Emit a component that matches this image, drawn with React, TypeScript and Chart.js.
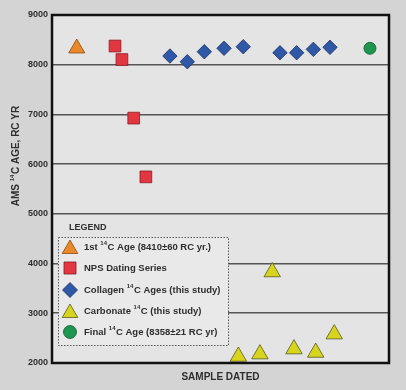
import React, { useEffect, useRef } from "react";
import { Chart, registerables } from "chart.js";

Chart.register(...registerables);

const yTicks = [2000, 3000, 4000, 5000, 6000, 7000, 8000, 9000];

const firstX = [1.47];
const firstY = [8330];
const npsX = [3.74, 4.15, 4.85, 5.57];
const npsY = [8376, 8104, 6926, 5744];
const collX = [7.0, 8.03, 9.04, 10.21, 11.35, 13.53, 14.52, 15.51, 16.5];
const collY = [8175, 8060, 8261, 8330, 8362, 8241, 8241, 8309, 8350];
const carbX = [11.06, 12.34, 13.07, 14.36, 15.65, 16.75];
const carbY = [2131, 2179, 3830, 2280, 2211, 2581];
const finalX = [18.87];
const finalY = [8330];

const legendItems = [
  { shape: "triangle", fill: "#e8892a", stroke: "#8a4a10", parts: ["1st ", "^14", "C Age (8410±60 RC yr.)"] },
  { shape: "rect", fill: "#e23640", stroke: "#8a1a20", parts: ["NPS Dating Series"] },
  { shape: "diamond", fill: "#2f59a6", stroke: "#1a2f60", parts: ["Collagen ", "^14", "C Ages (this study)"] },
  { shape: "triangle", fill: "#d6d41c", stroke: "#5a5a20", parts: ["Carbonate ", "^14", "C (this study)"] },
  { shape: "circle", fill: "#1e9650", stroke: "#0e5a2a", parts: ["Final ", "^14", "C Age (8358±21 RC yr)"] },
];

const FONT = "'Liberation Sans', Arial, sans-serif";
const TEXT = "#2e2e2e";

function pts(xs: number[], ys: number[]) {
  return xs.map((x, i) => ({ x, y: ys[i] }));
}

function drawShape(ctx: CanvasRenderingContext2D, shape: string, x: number, y: number, r: number) {
  ctx.beginPath();
  if (shape === "triangle") {
    ctx.moveTo(x, y - r);
    ctx.lineTo(x + r * Math.sin((2 * Math.PI) / 3), y - r * Math.cos((2 * Math.PI) / 3));
    ctx.lineTo(x + r * Math.sin((4 * Math.PI) / 3), y - r * Math.cos((4 * Math.PI) / 3));
    ctx.closePath();
  } else if (shape === "rect") {
    const h = r * 0.707;
    ctx.rect(x - h, y - h, 2 * h, 2 * h);
  } else if (shape === "diamond") {
    ctx.moveTo(x, y - r);
    ctx.lineTo(x + r, y);
    ctx.lineTo(x, y + r);
    ctx.lineTo(x - r, y);
    ctx.closePath();
  } else {
    ctx.arc(x, y, r, 0, Math.PI * 2);
  }
  ctx.fill();
  ctx.stroke();
}

function measureRich(ctx: CanvasRenderingContext2D, parts: string[], size: number) {
  let w = 0;
  for (const p of parts) {
    if (p.startsWith("^")) {
      ctx.font = `bold ${Math.round(size * 0.6)}px ${FONT}`;
      w += ctx.measureText(p.slice(1)).width + 0.5;
    } else {
      ctx.font = `bold ${size}px ${FONT}`;
      w += ctx.measureText(p).width;
    }
  }
  return w;
}

function drawRich(ctx: CanvasRenderingContext2D, parts: string[], x: number, y: number, size: number) {
  let cx = x;
  for (const p of parts) {
    if (p.startsWith("^")) {
      const t = p.slice(1);
      ctx.font = `bold ${Math.round(size * 0.6)}px ${FONT}`;
      ctx.fillText(t, cx, y - size * 0.35);
      cx += ctx.measureText(t).width + 0.5;
    } else {
      ctx.font = `bold ${size}px ${FONT}`;
      ctx.fillText(p, cx, y);
      cx += ctx.measureText(p).width;
    }
  }
}

const decorPlugin = {
  id: "decor",
  beforeDraw(chart: any) {
    const { ctx, width, height, chartArea: a } = chart;
    ctx.save();
    ctx.fillStyle = "#d4d4d4";
    ctx.fillRect(0, 0, width, height);
    ctx.fillStyle = "#e4e4e4";
    ctx.fillRect(a.left, a.top, a.right - a.left, a.bottom - a.top);
    ctx.restore();
  },
  afterDraw(chart: any) {
    const { ctx, chartArea: a } = chart;
    ctx.save();
    // plot border
    ctx.beginPath();
    ctx.strokeStyle = "#111111";
    ctx.lineWidth = 2.5;
    ctx.rect(a.left, a.top, a.right - a.left, a.bottom - a.top);
    ctx.stroke();

    // legend box
    const bx = a.left + 6, by = 237, bw = 170, bh = 108;
    ctx.fillStyle = "#e9e9e9";
    ctx.fillRect(bx, by, bw, bh);
    ctx.setLineDash([1.5, 1.5]);
    ctx.strokeStyle = "#555555";
    ctx.lineWidth = 1;
    ctx.strokeRect(bx + 0.5, by + 0.5, bw, bh);
    ctx.setLineDash([]);

    ctx.fillStyle = TEXT;
    ctx.textBaseline = "middle";
    ctx.textAlign = "left";
    ctx.font = `bold 9px ${FONT}`;
    ctx.fillText("LEGEND", a.left + 17, 228);

    const ys = [247, 268, 290, 311, 332];
    legendItems.forEach((it, i) => {
      ctx.fillStyle = it.fill;
      ctx.strokeStyle = it.stroke;
      ctx.lineWidth = 0.8;
      const r = it.shape === "triangle" ? 9 : it.shape === "rect" ? 8.5 : it.shape === "diamond" ? 7.5 : 6.5;
      const dy = it.shape === "triangle" ? 2 : 0;
      drawShape(ctx, it.shape, a.left + 18, ys[i] + dy, r);
      ctx.fillStyle = TEXT;
      drawRich(ctx, it.parts, a.left + 32, ys[i], 9.5);
    });

    // axis titles
    ctx.fillStyle = TEXT;
    ctx.textAlign = "left";
    ctx.font = `bold 10px ${FONT}`;
    const xt = "SAMPLE DATED";
    const xw = ctx.measureText(xt).width;
    ctx.fillText(xt, (a.left + a.right) / 2 - xw / 2, 377);

    ctx.save();
    ctx.translate(16, 156);
    ctx.rotate(-Math.PI / 2);
    const parts = ["AMS ", "^14", "C AGE, RC YR"];
    const w = measureRich(ctx, parts, 10);
    ctx.fillStyle = TEXT;
    drawRich(ctx, parts, -w / 2, 0, 10);
    ctx.restore();
    ctx.restore();
  },
};

export default function App() {
  const ref = useRef<HTMLCanvasElement | null>(null);
  useEffect(() => {
    if (!ref.current) return;
    const chart = new Chart(ref.current, {
      type: "scatter",
      data: {
        datasets: [
          {
            label: "1st 14C Age",
            data: pts(firstX, firstY),
            pointStyle: "triangle",
            pointRadius: 9.3,
            backgroundColor: "#e8892a",
            borderColor: "#8a4a10",
            borderWidth: 0.8,
            clip: false,
          },
          {
            label: "NPS Dating Series",
            data: pts(npsX, npsY),
            pointStyle: "rect",
            pointRadius: 8.3,
            backgroundColor: "#e23640",
            borderColor: "#8a1a20",
            borderWidth: 0.8,
            clip: false,
          },
          {
            label: "Collagen 14C Ages",
            data: pts(collX, collY),
            pointStyle: "rectRot",
            pointRadius: 7.2,
            backgroundColor: "#2f59a6",
            borderColor: "#1a2f60",
            borderWidth: 0.8,
            clip: false,
          },
          {
            label: "Carbonate 14C",
            data: pts(carbX, carbY),
            pointStyle: "triangle",
            pointRadius: 9.5,
            backgroundColor: "#d6d41c",
            borderColor: "#5a5a20",
            borderWidth: 0.8,
            clip: false,
          },
          {
            label: "Final 14C Age",
            data: pts(finalX, finalY),
            pointStyle: "circle",
            pointRadius: 6,
            backgroundColor: "#1e9650",
            borderColor: "#0e5a2a",
            borderWidth: 0.8,
            clip: false,
          },
        ],
      },
      options: {
        animation: false,
        responsive: false,
        maintainAspectRatio: false,
        layout: { padding: { top: 15, right: 17, left: 0, bottom: 0 } },
        plugins: { legend: { display: false }, tooltip: { enabled: false } },
        scales: {
          x: {
            type: "linear",
            min: 0,
            max: 20,
            grid: { display: false },
            border: { display: false },
            ticks: { display: false },
            afterFit: (s: any) => {
              s.height = 27;
            },
          },
          y: {
            type: "linear",
            min: 2000,
            max: 9000,
            afterBuildTicks: (s: any) => {
              s.ticks = yTicks.map((v) => ({ value: v }));
            },
            grid: { color: "#555555", lineWidth: 1.6, drawTicks: false },
            border: { display: false },
            ticks: {
              color: TEXT,
              padding: 4,
              font: { family: FONT, size: 9, weight: "bold" },
              callback: (v: any) => String(v),
            },
            afterFit: (s: any) => {
              s.width = 52;
            },
          },
        },
      },
      plugins: [decorPlugin],
    } as any);
    return () => chart.destroy();
  }, []);
  return (
    <div style={{ position: "absolute", left: 0, top: 0, width: 406, height: 390 }}>
      <canvas ref={ref} width={406} height={390} style={{ width: 406, height: 390 }} />
    </div>
  );
}
